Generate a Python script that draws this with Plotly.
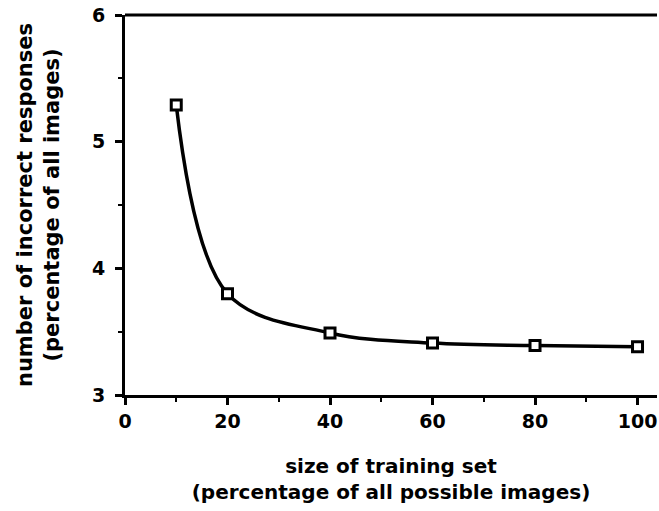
import plotly.graph_objects as go

train_size = [10, 20, 40, 60, 80, 100]
incorrect = [5.29, 3.80, 3.49, 3.41, 3.39, 3.38]
x_ticks = [0, 20, 40, 60, 80, 100]
y_ticks = [3, 4, 5, 6]

FONT = "DejaVu Sans"

fig = go.Figure()
fig.add_trace(go.Scatter(
    x=train_size, y=incorrect, mode="lines+markers",
    line=dict(color="black", width=3.5, shape="spline", smoothing=1.0),
    marker=dict(symbol="square", size=10, color="white",
                line=dict(color="black", width=3)),
    showlegend=False, cliponaxis=False,
))

fig.update_layout(
    width=659, height=511,
    margin=dict(l=125, r=2, t=15, b=116),
    plot_bgcolor="white", paper_bgcolor="white",
    font=dict(family=FONT, color="black", size=18),
    xaxis=dict(
        range=[0, 103.8], tickvals=x_ticks, ticktext=[f"<b>{v}</b>" for v in x_ticks],
        showline=True, linewidth=3, linecolor="black", showgrid=False, zeroline=False,
        ticks="outside", ticklen=7, tickwidth=2.5, tickcolor="black",
        minor=dict(dtick=10, tick0=0, ticks="outside", ticklen=4, tickwidth=2, tickcolor="black", showgrid=False),
        tickfont=dict(family=FONT, size=19), automargin=False,
        title=dict(text="<b>size of training set<br>(percentage of all possible images)</b>",
                   font=dict(family=FONT, size=20), standoff=29),
    ),
    yaxis=dict(
        range=[3, 6], tickvals=y_ticks, ticktext=[f"<b>{v}</b>" for v in y_ticks],
        showline=True, linewidth=3, linecolor="black", showgrid=False, zeroline=False,
        ticks="outside", ticklen=7, tickwidth=2.5, tickcolor="black",
        minor=dict(dtick=0.5, tick0=3, ticks="outside", ticklen=4, tickwidth=2, tickcolor="black", showgrid=False),
        tickfont=dict(family=FONT, size=19), ticklabelstandoff=6, automargin=False,
        title=dict(text="<b>number of incorrect responses<br>(percentage of all images)</b>",
                   font=dict(family=FONT, size=21), standoff=27),
    ),
    shapes=[dict(type="line", xref="paper", yref="paper", x0=0, x1=1, y0=1, y1=1,
                 line=dict(color="black", width=3))],
)

fig.write_html("out.html", config={"displayModeBar": False},
               post_script="document.body.style.margin='0';document.body.style.overflow='hidden';")
